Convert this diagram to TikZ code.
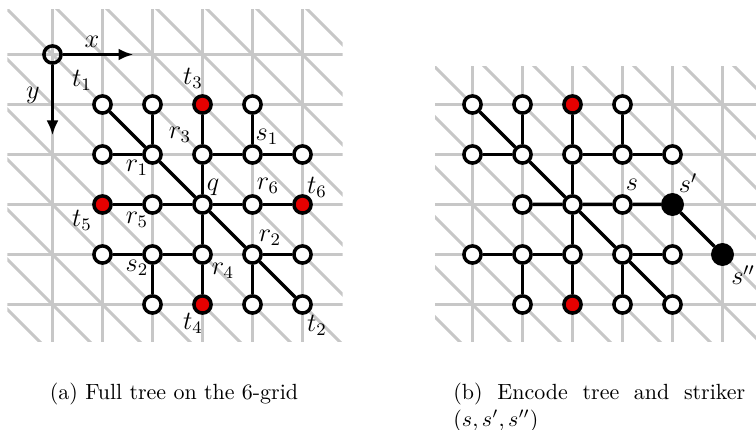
\documentclass[tikz,border=0pt]{standalone}
\usetikzlibrary{calc, arrows.meta}

\tikzset{
  gridline/.style={line width=1.3pt, black!22},
  vtx/.style={circle, draw, fill=white, line width=1.6pt, inner sep=0pt, minimum size=2.75mm},
  tgt/.style={vtx, fill=red!90!black},
  strk/.style={vtx, fill=black, minimum size=3.1mm},
  orig/.style={circle, draw, line width=1.6pt, inner sep=0pt, minimum size=2.75mm},
  tedge/.style={line width=1.6pt},
  lbl/.style={inner sep=0pt, font=\large},
}

\begin{document}
\begin{tikzpicture}[x=0.8cm, y=-0.8cm]
  \useasboundingbox (-1.05,-1.09) rectangle (14.07,7.51);

  % (a) grid
  \begin{scope}
    \clip (-0.9,-0.9) rectangle (5.8,5.75);
    \foreach \k in {-1,...,6} {
      \draw[gridline] (\k,-1) -- (\k,7);
      \draw[gridline] (-1,\k) -- (7,\k);
    }
    \foreach \k in {-7,...,7}
      \draw[gridline] (\k-1,-1) -- (\k+7,7);
  \end{scope}

  % axes
  \node[orig] (o) at (0,0) {};
  \coordinate (xend) at (1.62,0);
  \coordinate (yend) at (0,1.62);
  \draw[tedge, -{Latex[length=2.4mm, width=1.9mm]}] (o) -- (xend);
  \draw[tedge, -{Latex[length=2.4mm, width=1.9mm]}] (o) -- (yend);
  \node[lbl] (xl) at (0.79,-0.25) {$x$};
  \node[lbl] (yl) at (-0.39,0.81) {$y$};

  % (a) tree
  \node[vtx] (t1) at (1,1) {};
  \node[vtx] (a21) at (2,1) {};
  \node[tgt] (t3) at (3,1) {};
  \node[vtx] (a41) at (4,1) {};
  \node[vtx] (a12) at (1,2) {};
  \node[vtx] (r1) at (2,2) {};
  \node[vtx] (r3) at (3,2) {};
  \node[vtx] (s1) at (4,2) {};
  \node[vtx] (a52) at (5,2) {};
  \node[tgt] (t5) at (1,3) {};
  \node[vtx] (r5) at (2,3) {};
  \node[vtx] (q) at (3,3) {};
  \node[vtx] (r6) at (4,3) {};
  \node[tgt] (t6) at (5,3) {};
  \node[vtx] (a14) at (1,4) {};
  \node[vtx] (s2) at (2,4) {};
  \node[vtx] (r4) at (3,4) {};
  \node[vtx] (r2) at (4,4) {};
  \node[vtx] (a54) at (5,4) {};
  \node[vtx] (a25) at (2,5) {};
  \node[tgt] (t4) at (3,5) {};
  \node[vtx] (a45) at (4,5) {};
  \node[vtx] (t2) at (5,5) {};

  \draw[tedge] (t1) -- (r1) -- (q) -- (r2) -- (t2);
  \draw[tedge] (a21) -- (r1);
  \draw[tedge] (a12) -- (r1);
  \draw[tedge] (t3) -- (r3) -- (q) -- (r4) -- (t4);
  \draw[tedge] (r3) -- (s1) -- (a52);
  \draw[tedge] (a41) -- (s1);
  \draw[tedge] (t5) -- (r5) -- (q) -- (r6) -- (t6);
  \draw[tedge] (a14) -- (s2) -- (r4);
  \draw[tedge] (s2) -- (a25);
  \draw[tedge] (r2) -- (a54);
  \draw[tedge] (r2) -- (a45);

  \node[lbl] (lt1) at ($(t1)+(-0.41,-0.49)$) {$t_1$};
  \node[lbl] (lt3) at ($(t3)+(-0.19,-0.53)$) {$t_3$};
  \node[lbl] (lr3) at ($(r3)+(-0.45,-0.39)$) {$r_3$};
  \node[lbl] (ls1) at ($(s1)+(0.29,-0.35)$) {$s_1$};
  \node[lbl] (lr1) at ($(r1)+(-0.31,0.27)$) {$r_1$};
  \node[lbl] (lq) at ($(q)+(0.21,-0.35)$) {$q$};
  \node[lbl] (lr6) at ($(r6)+(0.31,-0.37)$) {$r_6$};
  \node[lbl] (lt6) at ($(t6)+(0.29,-0.35)$) {$t_6$};
  \node[lbl] (lt5) at ($(t5)+(-0.41,0.31)$) {$t_5$};
  \node[lbl] (lr5) at ($(r5)+(-0.31,0.31)$) {$r_5$};
  \node[lbl] (lr2) at ($(r2)+(0.35,-0.33)$) {$r_2$};
  \node[lbl] (ls2) at ($(s2)+(-0.31,0.27)$) {$s_2$};
  \node[lbl] (lr4) at ($(r4)+(0.41,0.33)$) {$r_4$};
  \node[lbl] (lt4) at ($(t4)+(-0.19,0.37)$) {$t_4$};
  \node[lbl] (lt2) at ($(t2)+(0.29,0.41)$) {$t_2$};

  \node[anchor=base] (capa) at (2.43,6.9) {(a) Full tree on the 6-grid};

  % (b) encode tree and striker
  \begin{scope}[shift={(7.4,0)}]
    \begin{scope}
      \clip (0.25,0.25) rectangle (7.5,5.75);
      \foreach \k in {0,...,7} {
        \draw[gridline] (\k,-1) -- (\k,7);
        \draw[gridline] (-1,\k) -- (8,\k);
      }
      \foreach \k in {-7,...,8}
        \draw[gridline] (\k-1,-1) -- (\k+7,7);
    \end{scope}

    \node[vtx] (b11) at (1,1) {};
    \node[vtx] (b21) at (2,1) {};
    \node[tgt] (b31) at (3,1) {};
    \node[vtx] (b41) at (4,1) {};
    \node[vtx] (b12) at (1,2) {};
    \node[vtx] (b22) at (2,2) {};
    \node[vtx] (b32) at (3,2) {};
    \node[vtx] (b42) at (4,2) {};
    \node[vtx] (b52) at (5,2) {};
    \node[vtx] (b23) at (2,3) {};
    \node[vtx] (b33) at (3,3) {};
    \node[vtx] (s) at (4,3) {};
    \node[strk] (sp) at (5,3) {};
    \node[vtx] (b14) at (1,4) {};
    \node[vtx] (b24) at (2,4) {};
    \node[vtx] (b34) at (3,4) {};
    \node[vtx] (b44) at (4,4) {};
    \node[vtx] (b54) at (5,4) {};
    \node[strk] (spp) at (6,4) {};
    \node[vtx] (b25) at (2,5) {};
    \node[tgt] (b35) at (3,5) {};
    \node[vtx] (b45) at (4,5) {};
    \node[vtx] (b55) at (5,5) {};

    \draw[tedge] (b11) -- (b22) -- (b33) -- (b44) -- (b55);
    \draw[tedge] (b21) -- (b22);
    \draw[tedge] (b12) -- (b22);
    \draw[tedge] (b31) -- (b32) -- (b33) -- (b34) -- (b35);
    \draw[tedge] (b32) -- (b42) -- (b52);
    \draw[tedge] (b41) -- (b42);
    \draw[tedge] (b23) -- (b33) -- (s) -- (sp) -- (spp);
    \draw[tedge] (b14) -- (b24) -- (b34);
    \draw[tedge] (b24) -- (b25);
    \draw[tedge] (b44) -- (b54);
    \draw[tedge] (b44) -- (b45);

    \node[lbl] (ls) at ($(s)+(0.19,-0.39)$) {$s$};
    \node[lbl] (lsp) at ($(sp)+(0.31,-0.43)$) {$s'$};
    \node[lbl] (lspp) at ($(spp)+(0.41,0.41)$) {$s''$};
  \end{scope}

  \node[anchor=north west, inner sep=0pt, text width=4.67cm, align=justify] (capb) at (8.01,6.57)
    {(b) Encode tree and striker $(s, s', s'')$};
\end{tikzpicture}
\end{document}
